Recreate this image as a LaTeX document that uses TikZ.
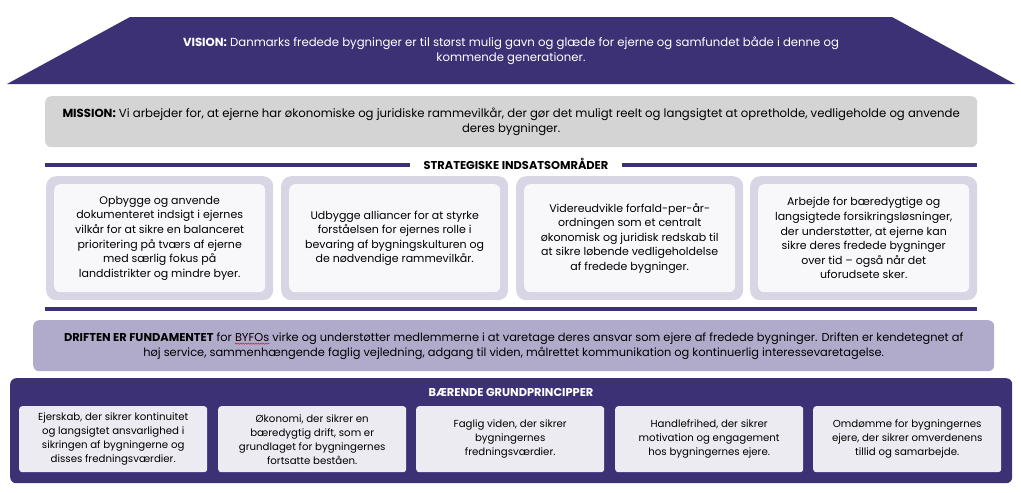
\documentclass[tikz,border=0pt]{standalone}
\usepackage{fontspec}
\setmainfont{Poppins}
\usetikzlibrary{decorations.pathmorphing,calc}
\definecolor{dpurple}{RGB}{61,49,118}
\definecolor{mgrey}{RGB}{212,212,212}
\definecolor{cardout}{RGB}{216,213,228}
\definecolor{cardin}{RGB}{248,248,251}
\definecolor{lav}{RGB}{177,171,203}
\definecolor{pbox}{RGB}{236,235,241}
\newlength\driftlineA
\newlength\driftpre
\newlength\driftword
\newcommand\driftfont{\fontsize{11.4}{15}\selectfont}
\tikzset{
  toptext/.style={font=\fontsize{11.7}{15}\selectfont, align=center, inner sep=0pt},
  outercard/.style={fill=cardout, rounded corners=10pt, minimum width=227pt, minimum height=124pt, anchor=north west, inner sep=0pt},
  innercard/.style={fill=cardin, rounded corners=6pt, minimum width=211pt, minimum height=108pt, align=center, font=\fontsize{11}{14.6}\selectfont, inner sep=0pt},
  pricard/.style={fill=pbox, rounded corners=3pt, minimum width=188pt, minimum height=66pt, anchor=north west, align=center, font=\fontsize{10.2}{14}\selectfont, inner sep=0pt},
  rule/.style={draw=dpurple, line width=4pt},
  hdrtext/.style={font=\bfseries\fontsize{11.4}{12}\selectfont, inner ysep=0pt},
  squiggle/.style={draw=red, line width=0.5pt, decorate, decoration={snake, amplitude=0.6pt, segment length=2.5pt}},
}
\begin{document}
\settowidth\driftlineA{\driftfont\textbf{DRIFTEN ER FUNDAMENTET} for BYFOs virke og understøtter medlemmerne i at varetage deres ansvar som ejere af fredede bygninger. Driften er kendetegnet af}%
\settowidth\driftpre{\driftfont\textbf{DRIFTEN ER FUNDAMENTET} for }%
\settowidth\driftword{\driftfont BYFOs}%
\begin{tikzpicture}[x=1pt,y=-1pt]
\useasboundingbox (0,0) rectangle (1021,493);
% vision
\fill[dpurple] (130,17) -- (892,17) -- (1015,84) -- (7,84) -- cycle;
\node[toptext, text=white] (vision) at (511,51) {\textbf{VISION:} Danmarks fredede bygninger er til størst mulig gavn og glæde for ejerne og samfundet både i denne og\\kommende generationer.};
% mission
\node[fill=mgrey, rounded corners=6pt, minimum width=932pt, minimum height=51pt, anchor=north west, toptext] (mission) at (45,96) {\textbf{MISSION:} Vi arbejder for, at ejerne har økonomiske og juridiske rammevilkår, der gør det muligt reelt og langsigtet at opretholde, vedligeholde og anvende\\deres bygninger.};
% header
\node[hdrtext, inner xsep=13pt] (hdr) at (516,164) {STRATEGISKE INDSATSOMRÅDER};
\coordinate (hl) at (45,165);
\coordinate (hr) at (977,165);
\draw[rule] (hl) -- (hl -| hdr.west);
\draw[rule] (hdr.east |- hr) -- (hr);
% cards
\node[outercard] (c1) at (46,176) {};
\node[outercard] (c2) at (281,176) {};
\node[outercard] (c3) at (516,176) {};
\node[outercard] (c4) at (750,176) {};
\node[innercard] (t1) at (c1.center) {Opbygge og anvende\\dokumenteret indsigt i ejernes\\vilkår for at sikre en balanceret\\prioritering på tværs af ejerne\\med særlig fokus på\\landdistrikter og mindre byer.};
\node[innercard] (t2) at (c2.center) {Udbygge alliancer for at styrke\\forståelsen for ejernes rolle i\\bevaring af bygningskulturen og\\de nødvendige rammevilkår.};
\node[innercard] (t3) at (c3.center) {Videreudvikle forfald-per-år-\\ordningen som et centralt\\økonomisk og juridisk redskab til\\at sikre løbende vedligeholdelse\\af fredede bygninger.};
\node[innercard] (t4) at (c4.center) {Arbejde for bæredygtige og\\langsigtede forsikringsløsninger,\\der understøtter, at ejerne kan\\sikre deres fredede bygninger\\over tid – også når det\\uforudsete sker.};
% rule
\coordinate (r1) at (45,309);
\coordinate (r2) at (977,309);
\draw[rule] (r1) -- (r2);
% driften
\node[fill=lav, rounded corners=6pt, minimum width=961pt, minimum height=51pt, anchor=north west, toptext, font=\driftfont] (drift) at (33,320) {\textbf{DRIFTEN ER FUNDAMENTET} for BYFOs virke og understøtter medlemmerne i at varetage deres ansvar som ejere af fredede bygninger. Driften er kendetegnet af\\høj service, sammenhængende faglig vejledning, adgang til viden, målrettet kommunikation og kontinuerlig interessevaretagelse.};
\coordinate (sq1) at ($(drift.center)+(-0.5*\driftlineA+\driftpre,-2)$);
\draw[squiggle] (sq1) -- ++(\driftword,0);
% bottom
\node[fill=dpurple, rounded corners=6pt, minimum width=1002pt, minimum height=105pt, anchor=north west, inner sep=0pt] (base) at (10,378) {};
\node[hdrtext, text=white, inner xsep=0pt] (bhdr) at (511,392) {BÆRENDE GRUNDPRINCIPPER};
\node[pricard] (p1) at (19,406) {Ejerskab, der sikrer kontinuitet\\og langsigtet ansvarlighed i\\sikringen af bygningerne og\\disses fredningsværdier.};
\node[pricard] (p2) at (218,406) {Økonomi, der sikrer en\\bæredygtig drift, som er\\grundlaget for bygningernes\\fortsatte beståen.};
\node[pricard] (p3) at (416,406) {Faglig viden, der sikrer\\bygningernes\\fredningsværdier.};
\node[pricard] (p4) at (615,406) {Handlefrihed, der sikrer\\motivation og engagement\\hos bygningernes ejere.};
\node[pricard] (p5) at (813,406) {Omdømme for bygningernes\\ejere, der sikrer omverdenens\\tillid og samarbejde.};
\end{tikzpicture}
\end{document}
